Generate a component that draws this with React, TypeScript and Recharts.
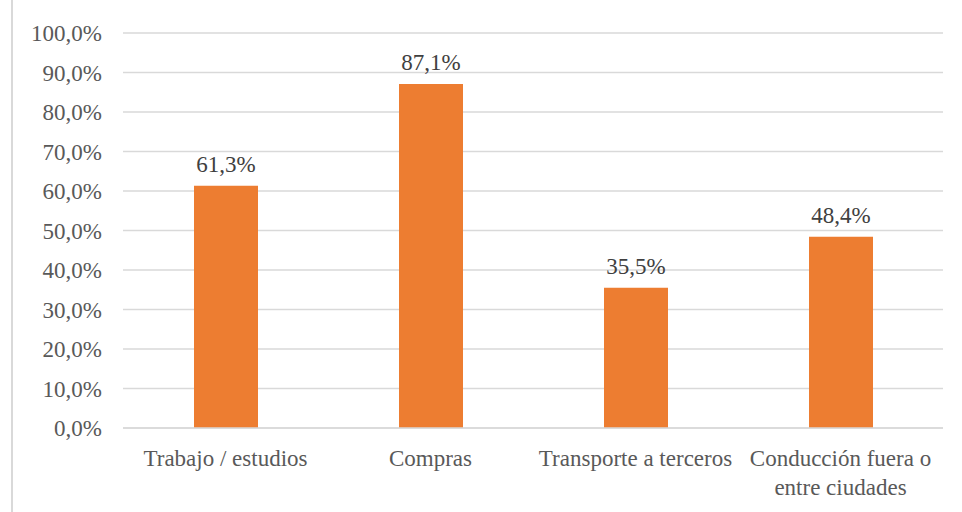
import React from "react";
import { Bar, BarChart, CartesianGrid, LabelList, XAxis, YAxis } from "recharts";

const categories = ["Trabajo / estudios", "Compras", "Transporte a terceros", "Conducción fuera o entre ciudades"];
const shares = [0.613, 0.871, 0.355, 0.484];
const yTicks = [0, 0.1, 0.2, 0.3, 0.4, 0.5, 0.6, 0.7, 0.8, 0.9, 1];

const data = categories.map((name, i) => ({ name, value: shares[i] }));

const FONT = "Liberation Serif";
const FONT_SIZE = 23;
const INK = "#595959";

const pct = (v: number) => `${(v * 100).toFixed(1).replace(".", ",")}%`;

// greedy word wrap measured on a canvas, band is ~205px wide
function wrap(label: string, maxWidth: number): string[] {
    const ctx = document.createElement("canvas").getContext("2d");
    if (!ctx) return [label];
    ctx.font = `${FONT_SIZE}px "${FONT}"`;
    const lines: string[] = [];
    let line = "";
    for (const word of label.split(" ")) {
        const next = line ? `${line} ${word}` : word;
        if (line && ctx.measureText(next).width > maxWidth) {
            lines.push(line);
            line = word;
        } else {
            line = next;
        }
    }
    if (line) lines.push(line);
    return lines;
}

function CategoryTick({ x, y, payload }: any) {
    const lines = wrap(String(payload.value), 200);
    return (
        <text x={x} y={y + 38} textAnchor="middle" fill={INK} fontFamily={FONT} fontSize={FONT_SIZE}>
            {lines.map((l, i) => (
                <tspan key={i} x={x} dy={i === 0 ? 0 : 29}>
                    {l}
                </tspan>
            ))}
        </text>
    );
}

export default function App() {
    return (
        <div style={{ position: "fixed", left: 0, top: 0, width: 962, height: 512, background: "#fff", fontFamily: FONT }}>
            <div style={{ position: "absolute", left: 11, top: 0, width: 2, height: 512, background: "#d9d9d9" }} />
            <BarChart width={962} height={512} data={data} margin={{ top: 33, right: 19, bottom: 0, left: 0 }}>
                <CartesianGrid vertical={false} stroke="#d9d9d9" strokeWidth={1.5} />
                <XAxis
                    dataKey="name"
                    axisLine={{ stroke: "#d9d9d9", strokeWidth: 1.5 }}
                    tickLine={false}
                    tickSize={0}
                    tickMargin={0}
                    interval={0}
                    height={84}
                    tick={<CategoryTick />}
                />
                <YAxis
                    type="number"
                    domain={[0, 1]}
                    ticks={yTicks}
                    width={123}
                    axisLine={false}
                    tickLine={false}
                    tickSize={0}
                    tickMargin={21}
                    tickFormatter={pct}
                    tick={{ fontSize: FONT_SIZE, fill: INK, fontFamily: FONT }}
                />
                <Bar dataKey="value" fill="#ed7d31" barSize={64} isAnimationActive={false}>
                    <LabelList
                        dataKey="value"
                        position="top"
                        offset={14}
                        formatter={(v: any) => pct(Number(v))}
                        fontSize={FONT_SIZE}
                        fontFamily={FONT}
                        fill="#404040"
                    />
                </Bar>
            </BarChart>
        </div>
    );
}
